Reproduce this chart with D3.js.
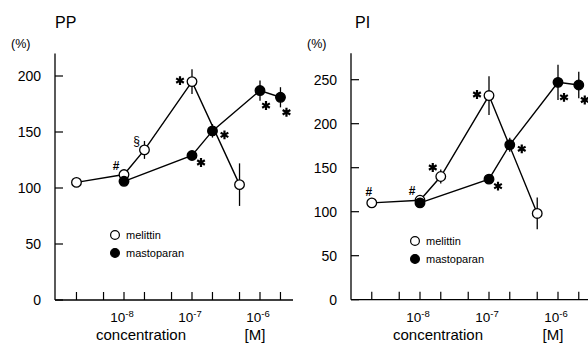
<!DOCTYPE html>
<html>
<head>
<meta charset="utf-8">
<script src="https://cdn.jsdelivr.net/npm/d3@7/dist/d3.min.js"></script>
<style>
  body { margin: 0; background: #fff; }
  svg { display: block; font-family: "Liberation Sans", Arial, sans-serif; }
</style>
</head>
<body>
<div id="chart"></div>
<script>
// --- data (concentration in M, response in %, error = SE) ---
const tickConcs = [2e-9, 5e-9, 1e-8, 2e-8, 5e-8, 1e-7, 2e-7, 5e-7, 1e-6, 2e-6];
const decadeLabels = [1e-8, 1e-7, 1e-6];

const ppMelittin = [
  { c: 2e-9, v: 105, e: 0 },
  { c: 1e-8, v: 112, e: 0 },
  { c: 2e-8, v: 134, e: 8 },
  { c: 1e-7, v: 195, e: 11 },
  { c: 5e-7, v: 103, e: 19 }
];
const ppMastoparan = [
  { c: 1e-8, v: 106, e: 0 },
  { c: 1e-7, v: 129, e: 0 },
  { c: 2e-7, v: 151, e: 6 },
  { c: 1e-6, v: 187, e: 9 },
  { c: 2e-6, v: 181, e: 9 }
];
const piMelittin = [
  { c: 2e-9, v: 110, e: 0 },
  { c: 1e-8, v: 113, e: 0 },
  { c: 2e-8, v: 140, e: 8 },
  { c: 1e-7, v: 232, e: 22 },
  { c: 5e-7, v: 98, e: 18 }
];
const piMastoparan = [
  { c: 1e-8, v: 110, e: 0 },
  { c: 1e-7, v: 137, e: 0 },
  { c: 2e-7, v: 176, e: 8 },
  { c: 1e-6, v: 247, e: 20 },
  { c: 2e-6, v: 244, e: 15 }
];

// significance marks: which point, which symbol, where it sits
const ppMarks = [
  { c: 1e-8, v: 112, s: "#", at: "UL" },
  { c: 2e-8, v: 134, s: "§", at: "UL" },
  { c: 1e-7, v: 195, s: "*", at: "L" },
  { c: 1e-7, v: 129, s: "*", at: "DR" },
  { c: 2e-7, v: 151, s: "*", at: "R" },
  { c: 1e-6, v: 187, s: "*", at: "DDR" },
  { c: 2e-6, v: 181, s: "*", at: "DDR" }
];
const piMarks = [
  { c: 2e-9, v: 110, s: "#", at: "U" },
  { c: 1e-8, v: 113, s: "#", at: "UL" },
  { c: 2e-8, v: 140, s: "*", at: "UL" },
  { c: 1e-7, v: 232, s: "*", at: "L" },
  { c: 1e-7, v: 137, s: "*", at: "DR" },
  { c: 2e-7, v: 176, s: "*", at: "R" },
  { c: 1e-6, v: 247, s: "*", at: "DDR" },
  { c: 2e-6, v: 244, s: "*", at: "DDR" }
];

const offsets = {
  U: [-3, -11], UL: [-8, -9], L: [-12, -1],
  R: [12, 4], DR: [9, 7], DDR: [6, 15]
};

const svg = d3.select("#chart").append("svg")
  .attr("width", 588)
  .attr("height", 344);

const star = d3.symbol().type(d3.symbolAsterisk).size(55);

function drawPanel(cfg) {
  const g = svg.append("g");

  const x = d3.scaleLog().domain([1e-8, 1e-6]).range(cfg.xRange);
  const y = d3.scaleLinear().domain([0, cfg.yTicks[cfg.yTicks.length - 1]]).range(cfg.yRange);

  // y axis
  g.append("line")
    .attr("x1", cfg.axisX).attr("x2", cfg.axisX)
    .attr("y1", y(0)).attr("y2", y(cfg.yTop))
    .attr("stroke", "#000").attr("stroke-width", 1.3);
  g.selectAll(".ytick").data(cfg.yTicks).join("line")
    .attr("x1", cfg.axisX).attr("x2", cfg.axisX + 8)
    .attr("y1", d => y(d)).attr("y2", d => y(d))
    .attr("stroke", "#000").attr("stroke-width", 1.2);
  g.selectAll(".ylab").data(cfg.yTicks).join("text")
    .attr("x", cfg.axisX - 14)
    .attr("y", d => y(d) + 5)
    .attr("text-anchor", "end")
    .attr("font-size", 14)
    .text(d => d);

  // x axis
  g.append("line")
    .attr("x1", cfg.axisX).attr("x2", cfg.xEnd)
    .attr("y1", y(0)).attr("y2", y(0))
    .attr("stroke", "#000").attr("stroke-width", 1.3);
  g.selectAll(".xtick").data(tickConcs).join("line")
    .attr("x1", d => x(d)).attr("x2", d => x(d))
    .attr("y1", y(0)).attr("y2", y(0) - 8)
    .attr("stroke", "#000").attr("stroke-width", 1.2);
  const xl = g.selectAll(".xlab").data(decadeLabels).join("text")
    .attr("x", d => x(d) - 2)
    .attr("y", y(0) + 22)
    .attr("text-anchor", "middle")
    .attr("font-size", 13.5);
  xl.append("tspan").text("10");
  xl.append("tspan").attr("dy", -5).attr("font-size", 9.5)
    .text(d => "-" + Math.round(-Math.log10(d)));

  g.append("text")
    .attr("x", cfg.xlabX).attr("y", 340)
    .attr("text-anchor", "middle").attr("font-size", 15)
    .text("concentration");
  g.append("text")
    .attr("x", cfg.unitX).attr("y", 340)
    .attr("text-anchor", "middle").attr("font-size", 15)
    .text("[M]");

  g.append("text")
    .attr("x", cfg.titleX).attr("y", 28)
    .attr("font-size", 16)
    .text(cfg.title);
  g.append("text")
    .attr("x", cfg.pctX).attr("y", 48)
    .attr("font-size", 12.5)
    .text("(%)");

  const line = d3.line().x(d => x(d.c)).y(d => y(d.v));
  const series = [
    { data: cfg.melittin, fill: "#fff" },
    { data: cfg.mastoparan, fill: "#000" }
  ];

  // error bars
  series.forEach(s => {
    g.selectAll(null).data(s.data.filter(d => d.e > 0)).join("line")
      .attr("x1", d => x(d.c)).attr("x2", d => x(d.c))
      .attr("y1", d => y(d.v - d.e)).attr("y2", d => y(d.v + d.e))
      .attr("stroke", "#000").attr("stroke-width", 1.3);
  });
  series.forEach(s => {
    g.append("path").datum(s.data)
      .attr("d", line)
      .attr("fill", "none")
      .attr("stroke", "#000").attr("stroke-width", 1.4);
  });
  series.forEach(s => {
    g.selectAll(null).data(s.data).join("circle")
      .attr("cx", d => x(d.c)).attr("cy", d => y(d.v))
      .attr("r", 4.8)
      .attr("fill", s.fill)
      .attr("stroke", "#000").attr("stroke-width", 1.3);
  });

  // significance marks
  cfg.marks.forEach(m => {
    const [dx, dy] = offsets[m.at];
    const px = x(m.c) + dx, py = y(m.v) + dy;
    if (m.s === "*") {
      g.append("path")
        .attr("d", star)
        .attr("transform", `translate(${px},${py})`)
        .attr("fill", "none")
        .attr("stroke", "#000").attr("stroke-width", 2.2);
    } else {
      g.append("text")
        .attr("x", px).attr("y", py + 4)
        .attr("text-anchor", "middle")
        .attr("font-size", 12)
        .attr("font-weight", m.s === "#" ? "bold" : "normal")
        .text(m.s);
    }
  });

  // legend
  const lg = g.append("g");
  [["melittin", "#fff"], ["mastoparan", "#000"]].forEach(([name, fill], i) => {
    lg.append("circle")
      .attr("cx", cfg.legX).attr("cy", cfg.legY + i * 18)
      .attr("r", 4.4)
      .attr("fill", fill).attr("stroke", "#000").attr("stroke-width", 1.2);
    lg.append("text")
      .attr("x", cfg.legX + 11).attr("y", cfg.legY + i * 18 + 4)
      .attr("font-size", 11)
      .text(name);
  });
}

drawPanel({
  title: "PP", titleX: 55, pctX: 11,
  axisX: 55, xEnd: 293, xRange: [124, 260],
  yTicks: [0, 50, 100, 150, 200], yTop: 220, yRange: [300, 76],
  xlabX: 141, unitX: 255,
  melittin: ppMelittin, mastoparan: ppMastoparan, marks: ppMarks,
  legX: 115, legY: 235
});
drawPanel({
  title: "PI", titleX: 355, pctX: 307,
  axisX: 351, xEnd: 588, xRange: [420, 558],
  yTicks: [0, 50, 100, 150, 200, 250], yTop: 280, yRange: [299.7, 79.7],
  xlabX: 438, unitX: 553,
  melittin: piMelittin, mastoparan: piMastoparan, marks: piMarks,
  legX: 415, legY: 241
});
</script>
</body>
</html>
